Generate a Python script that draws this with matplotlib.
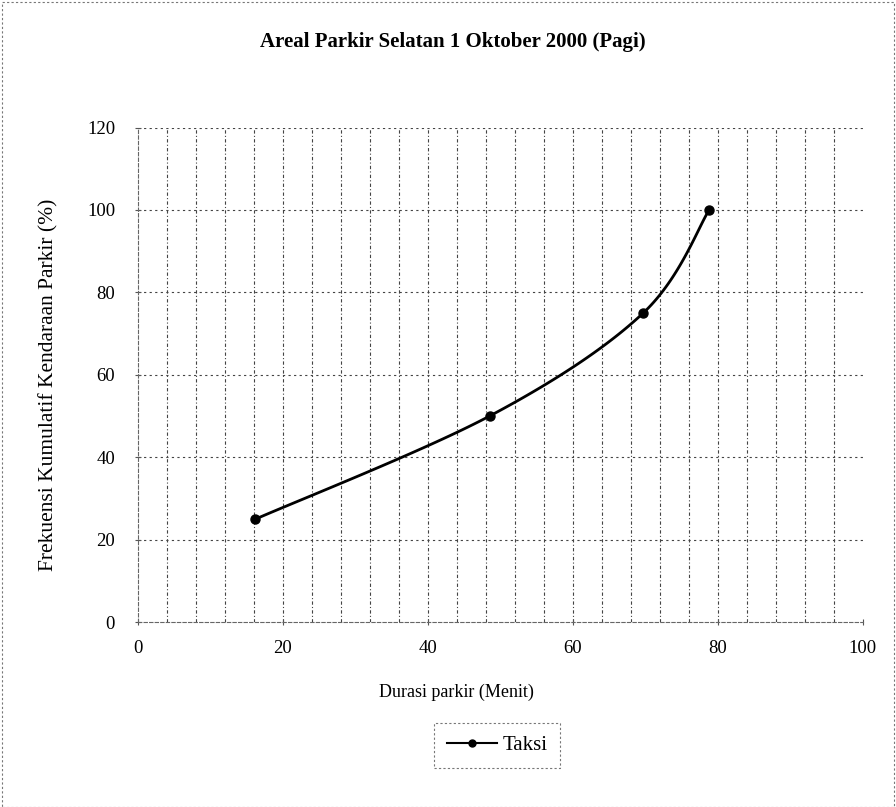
import numpy as np
import matplotlib
matplotlib.use("Agg")
import matplotlib.pyplot as plt
from matplotlib.patches import Rectangle

# data
durasi = [16.2, 48.5, 69.7, 78.8]
frek = [25, 50, 75, 100]
xticks = [0, 20, 40, 60, 80, 100]
yticks = [0, 20, 40, 60, 80, 100, 120]

plt.rcParams['font.family'] = ['Liberation Serif', 'DejaVu Serif']

fig = plt.figure(figsize=(8.96, 8.07), dpi=100)
ax = fig.add_axes([0.154, 0.229, 0.809, 0.613])
ax.set_xlim(0, 100)
ax.set_ylim(0, 120)

GRID = '#444444'
gstyle = (0, (3, 2, 1, 2))
for v in np.arange(4, 100, 4):
    ax.axvline(v, color=GRID, lw=0.8, ls=gstyle, zorder=1)
for v in yticks[1:]:
    ax.axhline(v, color=GRID, lw=0.8, ls=(0, (2, 3)), zorder=1)

for s in ax.spines.values():
    s.set_visible(False)
for side in ['left', 'bottom']:
    ax.spines[side].set_visible(True)
    ax.spines[side].set_color('#666666')
    ax.spines[side].set_linewidth(0.8)
    ax.spines[side].set_linestyle((0, (3, 2)))

ax.set_xticks(xticks)
ax.set_yticks(yticks)
ax.tick_params(axis='both', direction='inout', length=5, width=0.8, color='#555555',
               labelsize=13.5, pad=10)
ax.tick_params(axis='y', pad=14)

# smooth line in the Excel manner (Bezier through points, done in pixel space)
fig.canvas.draw()
pts = ax.transData.transform(np.column_stack([durasi, frek]))
n = len(pts)
curve = []
for i in range(n - 1):
    p0 = pts[max(i - 1, 0)]
    p1 = pts[i]
    p2 = pts[i + 1]
    p3 = pts[min(i + 2, n - 1)]
    c1 = p1 + (p2 - p0) / 6.0
    c2 = p2 - (p3 - p1) / 6.0
    t = np.linspace(0, 1, 40)[:, None]
    seg = (1 - t) ** 3 * p1 + 3 * (1 - t) ** 2 * t * c1 + 3 * (1 - t) * t ** 2 * c2 + t ** 3 * p2
    curve.append(seg)
curve = ax.transData.inverted().transform(np.vstack(curve))
ax.plot(curve[:, 0], curve[:, 1], color='black', lw=2.0, zorder=3)
ax.plot(durasi, frek, 'o', color='black', ms=6.5, zorder=4)

ax.set_xlabel('Durasi parkir (Menit)', fontsize=13)
ax.xaxis.set_label_coords(0.44, -0.125)
ax.set_ylabel('Frekuensi Kumulatif Kendaraan Parkir (%)', fontsize=15.5)
ax.yaxis.set_label_coords(-0.11, 0.48)
fig.text(0.505, 0.948, 'Areal Parkir Selatan 1 Oktober 2000 (Pagi)', ha='center', va='center',
         fontsize=15, fontweight='bold')

# legend
ax.plot([], [], '-o', color='black', lw=1.5, ms=5, label='Taksi')
leg = fig.legend(loc='center', bbox_to_anchor=(0.555, 0.076), fontsize=15, frameon=True,
                 fancybox=False, handlelength=2.4, borderpad=0.6, handletextpad=0.3)
leg.get_frame().set_edgecolor('#555555')
leg.get_frame().set_linestyle((0, (2, 2)))
leg.get_frame().set_linewidth(0.8)

# chart area border
fig.patches.append(Rectangle((0.002, 0.0), 0.996, 0.997, transform=fig.transFigure, fill=False,
                             ec='#777777', lw=0.8, ls=(0, (2, 2))))

fig.savefig('out.png', dpi=100)
